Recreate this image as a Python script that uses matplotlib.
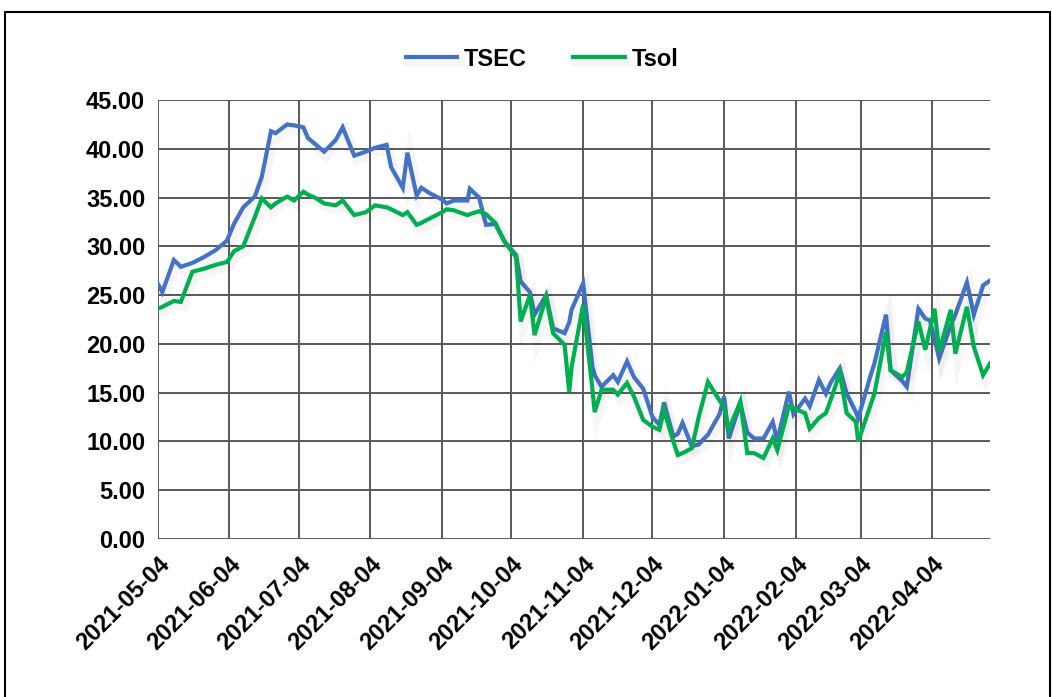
from __future__ import annotations

import matplotlib

matplotlib.use("Agg")
import matplotlib.pyplot as plt
import matplotlib.patheffects as pe
import pandas as pd
from matplotlib.patches import Rectangle


OUTPUT_PATH = "out.png"

DATES = [
    "2021-05-04", "2021-05-06", "2021-05-11", "2021-05-14", "2021-05-19",
    "2021-05-24", "2021-05-29", "2021-06-03", "2021-06-06", "2021-06-10",
    "2021-06-15", "2021-06-18", "2021-06-22", "2021-06-24", "2021-06-29",
    "2021-07-02", "2021-07-06", "2021-07-08", "2021-07-11", "2021-07-15",
    "2021-07-20", "2021-07-23", "2021-07-28", "2021-08-02", "2021-08-06",
    "2021-08-11", "2021-08-13", "2021-08-18", "2021-08-20", "2021-08-24",
    "2021-08-26", "2021-08-30", "2021-09-04", "2021-09-06", "2021-09-09",
    "2021-09-15", "2021-09-16", "2021-09-20", "2021-09-23", "2021-09-27",
    "2021-10-01", "2021-10-06", "2021-10-08", "2021-10-12", "2021-10-14",
    "2021-10-19", "2021-10-22", "2021-10-27", "2021-10-29", "2021-10-30",
    "2021-11-04", "2021-11-08", "2021-11-09", "2021-11-12", "2021-11-17",
    "2021-11-19", "2021-11-23", "2021-11-26", "2021-11-30", "2021-12-04",
    "2021-12-07", "2021-12-09", "2021-12-13", "2021-12-15", "2021-12-17",
    "2021-12-21", "2021-12-24", "2021-12-28", "2022-01-02", "2022-01-04",
    "2022-01-06", "2022-01-11", "2022-01-14", "2022-01-17", "2022-01-21",
    "2022-01-25", "2022-01-27", "2022-02-01", "2022-02-03", "2022-02-08",
    "2022-02-10", "2022-02-14", "2022-02-17", "2022-02-19", "2022-02-23",
    "2022-02-26", "2022-03-02", "2022-03-03", "2022-03-08", "2022-03-10",
    "2022-03-15", "2022-03-17", "2022-03-22", "2022-03-24", "2022-03-29",
    "2022-04-01", "2022-04-03", "2022-04-05", "2022-04-07", "2022-04-12",
    "2022-04-14", "2022-04-19", "2022-04-22", "2022-04-26", "2022-04-29",
]

TSEC = [
    26.2, 25.3, 28.6, 27.9, 28.3,
    28.9, 29.6, 30.6, 32.3, 34.0,
    35.1, 37.1, 41.8, 41.6, 42.5,
    42.4, 42.2, 41.1, 40.5, 39.7,
    40.9, 42.2, 39.3, 39.7, 40.1,
    40.4, 38.1, 36.0, 39.6, 35.2,
    36.0, 35.4, 34.8, 34.4, 34.7,
    34.7, 35.9, 35.0, 32.2, 32.3,
    30.5, 29.1, 26.4, 25.3, 23.0,
    25.0, 21.6, 21.1, 22.2, 23.5,
    26.2, 17.7, 16.8, 15.6, 16.8,
    16.1, 18.2, 16.6, 15.4, 12.5,
    11.7, 14.0, 10.5, 10.8, 11.9,
    9.5, 9.7, 10.7, 12.8, 14.6,
    10.3, 13.9, 10.9, 10.3, 10.3,
    12.0, 10.1, 15.1, 12.8, 14.4,
    13.6, 16.3, 14.9, 16.0, 17.5,
    14.9, 13.0, 12.4, 16.5, 18.0,
    23.0, 17.3, 16.2, 15.6, 23.6,
    22.6, 22.4, 20.5, 18.5, 21.9,
    23.0, 26.3, 23.0, 26.0, 26.5,
]

TSOL = [
    23.6, 23.8, 24.4, 24.3, 27.4,
    27.7, 28.1, 28.4, 29.5, 30.0,
    33.0, 34.9, 34.0, 34.4, 35.1,
    34.7, 35.6, 35.3, 35.0, 34.4,
    34.2, 34.7, 33.2, 33.5, 34.2,
    34.0, 33.8, 33.2, 33.5, 32.2,
    32.4, 32.9, 33.5, 33.8, 33.7,
    33.2, 33.3, 33.6, 33.3, 32.4,
    30.5, 28.9, 22.3, 25.0, 20.9,
    24.8, 21.1, 19.9, 15.1, 17.6,
    24.0, 15.4, 13.0, 15.3, 15.3,
    14.8, 16.0, 14.6, 12.2, 11.5,
    11.2, 13.2, 10.0, 8.6, 8.8,
    9.3, 12.5, 16.1, 14.2, 13.5,
    11.2, 14.1, 8.8, 8.8, 8.3,
    10.3, 9.1, 13.6, 13.4, 12.9,
    11.3, 12.4, 12.9, 14.2, 17.0,
    12.9, 12.0, 10.0, 13.5, 14.9,
    21.2, 17.3, 16.6, 17.1, 22.3,
    19.4, 21.5, 23.6, 19.2, 23.5,
    19.0, 23.8, 19.7, 16.8, 18.0,
]

TICK_DATES = [
    "2021-05-04", "2021-06-04", "2021-07-04", "2021-08-04", "2021-09-04", "2021-10-04",
    "2021-11-04", "2021-12-04", "2022-01-04", "2022-02-04", "2022-03-04", "2022-04-04",
]
Y_TICKS = [0, 5, 10, 15, 20, 25, 30, 35, 40, 45]
X_START = "2021-05-04"
X_END = "2022-04-29"

SERIES_COLORS = {"TSEC": "#4472C4", "Tsol": "#00B050"}
GRID_COLOR = "#595959"
FONT = ["Liberation Sans", "DejaVu Sans"]


def plot_chart() -> None:
    plt.rcParams["font.family"] = FONT
    plt.rcParams["font.weight"] = "bold"

    dates = pd.to_datetime(DATES)
    fig = plt.figure(figsize=(10.52, 6.97), dpi=100)
    ax = fig.add_axes((0.1499, 0.2267, 0.9411 - 0.1499, 0.8565 - 0.2267))

    # soft drop shadow, like the Excel line effect
    shadow = [pe.SimpleLineShadow(offset=(2, -3), shadow_color="black", alpha=0.035, linewidth=7), pe.Normal()]
    for name, values in (("TSEC", TSEC), ("Tsol", TSOL)):
        ax.plot(
            dates,
            values,
            color=SERIES_COLORS[name],
            linewidth=3.0,
            label=name,
            solid_joinstyle="miter",
            path_effects=shadow,
            zorder=3,
        )

    ax.set_xlim(pd.Timestamp(X_START), pd.Timestamp(X_END))
    ax.set_ylim(0, 45)
    ax.set_yticks(Y_TICKS)
    ax.set_yticklabels([f"{v:.2f}" for v in Y_TICKS], fontsize=17, fontweight="bold")
    tick_dates = pd.to_datetime(TICK_DATES)
    ax.set_xticks(tick_dates)
    ax.set_xticklabels(TICK_DATES, fontsize=17, fontweight="bold", rotation=45, ha="right",
                       rotation_mode="anchor")
    ax.tick_params(axis="both", length=0)
    ax.tick_params(axis="y", pad=9)
    ax.tick_params(axis="x", pad=10)
    ax.grid(True, color=GRID_COLOR, linewidth=1.4)
    ax.set_axisbelow(True)
    for spine in ax.spines.values():
        spine.set_visible(False)

    fig.legend(
        loc="center",
        bbox_to_anchor=(0.515, 0.915),
        ncol=2,
        frameon=False,
        prop={"family": FONT, "weight": "bold", "size": 17},
        handlelength=2.2,
        handletextpad=0.25,
        columnspacing=2.0,
    )

    fig.patches.append(
        Rectangle((0.005, -0.02), 0.993, 1.0028, transform=fig.transFigure, fill=False,
                  edgecolor="black", linewidth=1.5)
    )
    fig.savefig(OUTPUT_PATH, dpi=100, facecolor="white")
    plt.close(fig)


def main() -> None:
    plot_chart()
    print(f"Saved chart to {OUTPUT_PATH}")


if __name__ == "__main__":
    main()
